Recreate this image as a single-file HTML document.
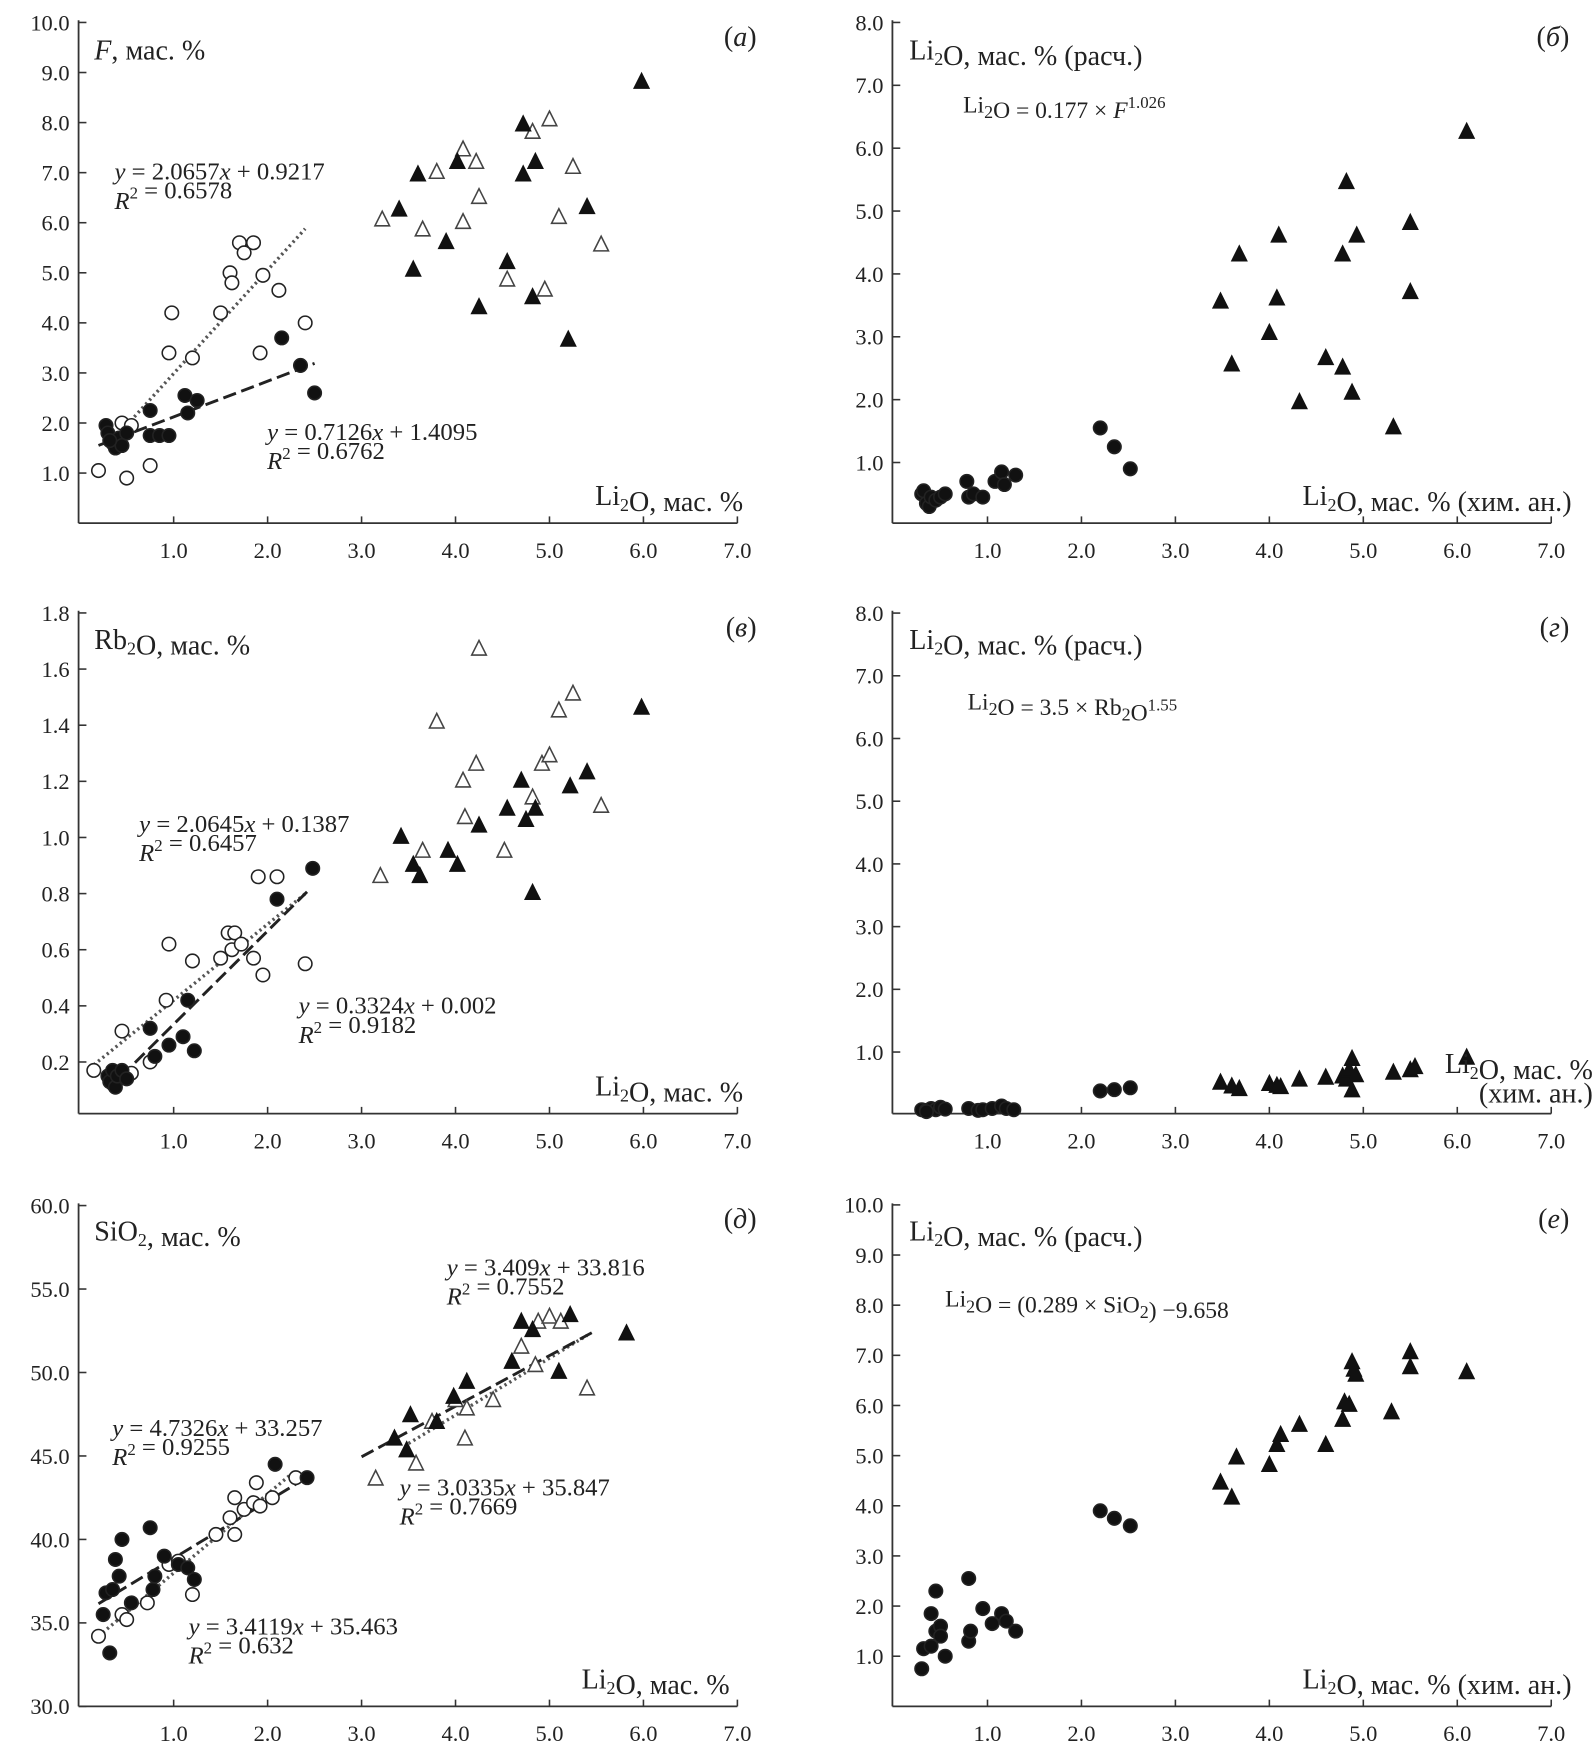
<!DOCTYPE html>
<html><head><meta charset="utf-8">
<style>
html,body{margin:0;padding:0;background:#fff;}
svg{display:block;}
text{font-family:"Liberation Serif","DejaVu Serif",serif;fill:#222;}
</style></head>
<body>
<svg id="fig" width="1594" height="1758" viewBox="0 0 1420 1566" preserveAspectRatio="none" xmlns="http://www.w3.org/2000/svg">
<rect x="0" y="0" width="1420" height="1566" fill="#fff"/>
</svg>
<script>
// ---- data (x = Li2O, y = value) ----
const aOpenCircles=[[0.2,1.05],[0.5,0.9],[0.75,1.15],[0.45,2.0],[0.55,1.95],[0.95,3.4],[0.98,4.2],[1.2,3.3],[1.5,4.2],[1.6,5.0],[1.62,4.8],[1.7,5.6],[1.75,5.4],[1.85,5.6],[1.95,4.95],[2.12,4.65],[1.92,3.4],[2.4,4.0]];
const aFilledCircles=[[0.28,1.95],[0.3,1.8],[0.35,1.6],[0.38,1.5],[0.42,1.7],[0.45,1.55],[0.5,1.8],[0.32,1.65],[0.75,2.25],[0.75,1.75],[0.85,1.75],[0.95,1.75],[1.12,2.55],[1.15,2.2],[1.25,2.45],[2.15,3.7],[2.35,3.15],[2.5,2.6]];
const aFilledTri=[[3.4,6.25],[3.6,6.95],[3.55,5.05],[3.9,5.6],[4.02,7.2],[4.25,4.3],[4.55,5.2],[4.72,7.95],[4.72,6.95],[4.85,7.2],[4.82,4.5],[5.2,3.65],[5.4,6.3],[5.98,8.8]];
const aOpenTri=[[3.22,6.05],[3.65,5.85],[3.8,7.0],[4.08,7.45],[4.08,6.0],[4.22,7.2],[4.25,6.5],[4.55,4.85],[4.82,7.8],[4.95,4.65],[5.0,8.05],[5.1,6.1],[5.25,7.1],[5.55,5.55]];
const aLines=[[0.3,2.4,2.0657,0.9217,"dot"],[0.2,2.5,0.7126,1.4095,"dash"]];

const bCircles=[[0.3,0.5],[0.32,0.55],[0.35,0.35],[0.38,0.3],[0.4,0.45],[0.45,0.4],[0.5,0.45],[0.55,0.5],[0.78,0.7],[0.8,0.45],[0.85,0.5],[0.95,0.45],[1.08,0.7],[1.15,0.85],[1.18,0.65],[1.3,0.8],[2.2,1.55],[2.35,1.25],[2.52,0.9]];
const bTri=[[3.48,3.55],[3.6,2.55],[3.68,4.3],[4.0,3.05],[4.08,3.6],[4.1,4.6],[4.32,1.95],[4.6,2.65],[4.78,2.5],[4.78,4.3],[4.82,5.45],[4.88,2.1],[4.93,4.6],[5.32,1.55],[5.5,4.8],[5.5,3.7],[6.1,6.25]];

const vOpenCircles=[[0.15,0.17],[0.45,0.31],[0.55,0.16],[0.75,0.2],[0.92,0.42],[0.95,0.62],[1.2,0.56],[1.5,0.57],[1.58,0.66],[1.62,0.6],[1.65,0.66],[1.72,0.62],[1.85,0.57],[1.9,0.86],[1.95,0.51],[2.1,0.86],[2.4,0.55]];
const vFilledCircles=[[0.3,0.15],[0.32,0.13],[0.35,0.17],[0.38,0.11],[0.4,0.15],[0.45,0.17],[0.5,0.14],[0.75,0.32],[0.8,0.22],[0.95,0.26],[1.1,0.29],[1.15,0.42],[1.22,0.24],[2.1,0.78],[2.48,0.89]];
const vFilledTri=[[3.42,1.0],[3.55,0.9],[3.62,0.86],[3.92,0.95],[4.02,0.9],[4.25,1.04],[4.55,1.1],[4.7,1.2],[4.75,1.06],[4.85,1.1],[4.82,0.8],[5.22,1.18],[5.4,1.23],[5.98,1.46]];
const vOpenTri=[[3.2,0.86],[3.65,0.95],[3.8,1.41],[4.08,1.2],[4.1,1.07],[4.22,1.26],[4.25,1.67],[4.52,0.95],[4.82,1.14],[4.92,1.26],[5.0,1.29],[5.1,1.45],[5.25,1.51],[5.55,1.11]];
const vLines=[[0.15,2.4,0.271,0.149,"dot"],[0.3,2.45,0.3324,0.002,"dash"]];

const gCircles=[[0.3,0.08],[0.35,0.07],[0.4,0.1],[0.45,0.08],[0.5,0.12],[0.55,0.09],[0.35,0.05],[0.8,0.1],[0.9,0.07],[0.95,0.08],[1.05,0.1],[1.15,0.14],[1.2,0.1],[1.28,0.08],[2.2,0.38],[2.35,0.4],[2.52,0.43]];
const gTri=[[3.48,0.5],[3.6,0.44],[3.68,0.4],[4.0,0.48],[4.08,0.45],[4.12,0.43],[4.32,0.55],[4.6,0.58],[4.78,0.6],[4.82,0.55],[4.85,0.7],[4.88,0.88],[4.88,0.38],[4.92,0.62],[5.32,0.66],[5.5,0.7],[5.55,0.75],[6.1,0.9]];

const dOpenCircles=[[0.2,34.2],[0.45,35.5],[0.5,35.2],[0.72,36.2],[0.95,38.5],[1.05,38.7],[1.2,36.7],[1.45,40.3],[1.6,41.3],[1.65,40.3],[1.65,42.5],[1.75,41.8],[1.85,42.2],[1.88,43.4],[1.92,42.0],[2.05,42.5],[2.3,43.7]];
const dFilledCircles=[[0.25,35.5],[0.28,36.8],[0.32,33.2],[0.35,37.0],[0.38,38.8],[0.42,37.8],[0.45,40.0],[0.55,36.2],[0.75,40.7],[0.78,37.0],[0.8,37.8],[0.9,39.0],[1.05,38.5],[1.15,38.3],[1.22,37.6],[2.08,44.5],[2.42,43.7]];
const dFilledTri=[[3.35,46.0],[3.48,45.3],[3.52,47.4],[3.8,47.0],[3.98,48.5],[4.12,49.4],[4.6,50.6],[4.7,53.0],[4.82,52.5],[5.1,50.0],[5.22,53.4],[5.82,52.3]];
const dOpenTri=[[3.15,43.6],[3.58,44.5],[3.75,47.0],[4.0,48.3],[4.12,47.8],[4.1,46.0],[4.4,48.3],[4.7,51.5],[4.85,50.4],[4.88,53.0],[5.0,53.3],[5.12,53.0],[5.4,49.0]];
const dLines=[[0.2,2.3,4.7326,33.257,"dot"],[0.2,2.35,3.4119,35.463,"dash"],[3.5,5.4,3.409,33.816,"dot"],[3.0,5.45,3.0335,35.847,"dash"]];

const eCircles=[[0.3,0.75],[0.32,1.15],[0.4,1.2],[0.4,1.85],[0.45,2.3],[0.45,1.5],[0.5,1.6],[0.5,1.4],[0.55,1.0],[0.8,2.55],[0.8,1.3],[0.82,1.5],[0.95,1.95],[1.05,1.65],[1.15,1.85],[1.2,1.7],[1.3,1.5],[2.2,3.9],[2.35,3.75],[2.52,3.6]];
const eTri=[[3.48,4.45],[3.6,4.15],[3.65,4.95],[4.0,4.8],[4.08,5.2],[4.12,5.4],[4.32,5.6],[4.6,5.2],[4.78,5.7],[4.8,6.05],[4.85,6.0],[4.88,6.85],[4.9,6.7],[4.92,6.6],[5.3,5.85],[5.5,7.05],[5.5,6.75],[6.1,6.65]];

const xTicks=[1,2,3,4,5,6,7];
const yTicksA=[1,2,3,4,5,6,7,8,9,10];
const yTicksB=[1,2,3,4,5,6,7,8];
const yTicksV=[0.2,0.4,0.6,0.8,1.0,1.2,1.4,1.6,1.8];
const yTicksD=[30,35,40,45,50,55,60];

const NS="http://www.w3.org/2000/svg";
const svg=document.getElementById('fig');
function el(tag,attrs,parent){const e=document.createElementNS(NS,tag);for(const k in attrs)e.setAttribute(k,attrs[k]);(parent||svg).appendChild(e);return e;}

function panel(name,ox,y0,ys,vmin,top,axisY,yTicks,dec){
  const g=el('g',{});
  
  
  const P={ox,y0,ys,vmin,g,X:v=>ox+v*83.7,Y:v=>y0-(v-vmin)*ys};
  const ya=el('line',{x1:ox-1,y1:top-2,x2:ox-1,y2:axisY,stroke:'#333','stroke-width':1.6},g);
  
  const xa=el('line',{x1:ox-1,y1:axisY,x2:P.X(7),y2:axisY,stroke:'#333','stroke-width':1.6},g);
  
  xTicks.forEach(t=>{
    el('line',{x1:P.X(t),y1:axisY,x2:P.X(t),y2:axisY-6,stroke:'#333','stroke-width':1.4},g);
    const tx=el('text',{x:P.X(t),y:axisY+31,'text-anchor':'middle','font-size':20},g);
    tx.textContent=t.toFixed(1);
    
  });
  yTicks.forEach(t=>{
    el('line',{x1:ox-1,y1:P.Y(t),x2:ox+6,y2:P.Y(t),stroke:'#333','stroke-width':1.4},g);
    const tx=el('text',{x:ox-9,y:P.Y(t)+7,'text-anchor':'end','font-size':20},g);
    tx.textContent=t.toFixed(dec);
    
  });
  return P;
}
function circles(P,data,filled,nm){
  data.forEach(d=>{const c=el('circle',{cx:P.X(d[0]),cy:P.Y(d[1]),r:6,fill:filled?'#111':'#fff',stroke:'#222','stroke-width':1.4},P.g);
    });
}
function tris(P,data,filled,nm){
  data.forEach(d=>{const x=P.X(d[0]),y=P.Y(d[1]);
    const t=el('polygon',{points:`${x},${y-8} ${x-6.5},${y+5} ${x+6.5},${y+5}`,fill:filled?'#111':'#fff',stroke:filled?'#111':'#444','stroke-width':1.4},P.g);
    });
}
function lines(P,data){
  data.forEach(l=>{const[x1,x2,m,b,s]=l;
    const ln=el('line',{x1:P.X(x1),y1:P.Y(m*x1+b),x2:P.X(x2),y2:P.Y(m*x2+b),stroke:s==='dot'?'#555':'#222','stroke-width':s==='dot'?3:2.6,'stroke-dasharray':s==='dot'?'2 3':'12 5'},P.g);
    });
}
function txt(x,y,html,size,nm,anchor){
  const t=el('text',{x,y,'font-size':size||22,'text-anchor':anchor||'start'});
  t.innerHTML=html;
  
}
const sub='<tspan font-size="16" dy="5">2</tspan><tspan dy="-5"></tspan>';
const sup2='<tspan font-size="15" dy="-9">2</tspan><tspan dy="9"></tspan>';
const T=25, Q=22;

// Panel a
const A=panel('panel-a',71,466,44.6,0,20,466,yTicksA,1);
lines(A,aLines);circles(A,aOpenCircles,false,'point-open-circle');circles(A,aFilledCircles,true,'point-filled-circle');
tris(A,aOpenTri,false,'point-open-triangle');tris(A,aFilledTri,true,'point-filled-triangle');
txt(84,53,'<tspan font-style="italic">F</tspan>, мас. %',T,'y-axis-title');
txt(674,41,'(<tspan font-style="italic">а</tspan>)',T,'panel-label','end');
txt(102,160,'<tspan font-style="italic">y</tspan> = 2.0657<tspan font-style="italic">x</tspan> + 0.9217',Q,'equation');
txt(102,186,'<tspan font-style="italic">R</tspan>'+sup2+' = 0.6578',Q,'r-squared');
txt(238,392,'<tspan font-style="italic">y</tspan> = 0.7126<tspan font-style="italic">x</tspan> + 1.4095',Q,'equation');
txt(238,418,'<tspan font-style="italic">R</tspan>'+sup2+' = 0.6762',Q,'r-squared');
txt(662,450,'Li'+sub+'O, мас. %',T,'x-axis-title','end');

// Panel б
const B=panel('panel-b',796,468,56,0,20,466,yTicksB,1);
circles(B,bCircles,true,'point-filled-circle');tris(B,bTri,true,'point-filled-triangle');
txt(810,53,'Li'+sub+'O, мас. % (расч.)',T,'y-axis-title');
txt(1398,41,'(<tspan font-style="italic">б</tspan>)',T,'panel-label','end');
txt(858,100,'Li'+sub+'O = 0.177 × <tspan font-style="italic">F</tspan><tspan font-size="15" dy="-9">1.026</tspan>',21,'formula');
txt(1400,450,'Li'+sub+'O, мас. % (хим. ан.)',T,'x-axis-title','end');

// Panel в
const V=panel('panel-v',71,996,250,0,546,992,yTicksV,1);
lines(V,vLines);circles(V,vOpenCircles,false,'point-open-circle');circles(V,vFilledCircles,true,'point-filled-circle');
tris(V,vOpenTri,false,'point-open-triangle');tris(V,vFilledTri,true,'point-filled-triangle');
txt(84,578,'Rb'+sub+'O, мас. %',T,'y-axis-title');
txt(674,567,'(<tspan font-style="italic">в</tspan>)',T,'panel-label','end');
txt(124,741,'<tspan font-style="italic">y</tspan> = 2.0645<tspan font-style="italic">x</tspan> + 0.1387',Q,'equation');
txt(124,767,'<tspan font-style="italic">R</tspan>'+sup2+' = 0.6457',Q,'r-squared');
txt(266,903,'<tspan font-style="italic">y</tspan> = 0.3324<tspan font-style="italic">x</tspan> + 0.002',Q,'equation');
txt(266,929,'<tspan font-style="italic">R</tspan>'+sup2+' = 0.9182',Q,'r-squared');
txt(662,976,'Li'+sub+'O, мас. %',T,'x-axis-title','end');

// Panel г
const G=panel('panel-g',796,993,55.86,0,546,992,yTicksB,1);
circles(G,gCircles,true,'point-filled-circle');tris(G,gTri,true,'point-filled-triangle');
txt(810,578,'Li'+sub+'O, мас. % (расч.)',T,'y-axis-title');
txt(1398,567,'(<tspan font-style="italic">г</tspan>)',T,'panel-label','end');
txt(862,632,'Li'+sub+'O = 3.5 × Rb'+sub+'O<tspan font-size="15" dy="-9">1.55</tspan>',21,'formula');
txt(1419,956,'Li'+sub+'O, мас. %',T,'x-axis-title','end');
txt(1419,982,'(хим. ан.)',T,'x-axis-title-2','end');

// Panel д
const D=panel('panel-d',71,1520,14.87,30,1074,1520,yTicksD,1);
lines(D,dLines);circles(D,dOpenCircles,false,'point-open-circle');circles(D,dFilledCircles,true,'point-filled-circle');
tris(D,dOpenTri,false,'point-open-triangle');tris(D,dFilledTri,true,'point-filled-triangle');
txt(84,1105,'SiO'+sub+', мас. %',T,'y-axis-title');
txt(674,1094,'(<tspan font-style="italic">д</tspan>)',T,'panel-label','end');
txt(398,1136,'<tspan font-style="italic">y</tspan> = 3.409<tspan font-style="italic">x</tspan> + 33.816',Q,'equation');
txt(398,1162,'<tspan font-style="italic">R</tspan>'+sup2+' = 0.7552',Q,'r-squared');
txt(100,1279,'<tspan font-style="italic">y</tspan> = 4.7326<tspan font-style="italic">x</tspan> + 33.257',Q,'equation');
txt(100,1305,'<tspan font-style="italic">R</tspan>'+sup2+' = 0.9255',Q,'r-squared');
txt(356,1332,'<tspan font-style="italic">y</tspan> = 3.0335<tspan font-style="italic">x</tspan> + 35.847',Q,'equation');
txt(356,1358,'<tspan font-style="italic">R</tspan>'+sup2+' = 0.7669',Q,'r-squared');
txt(168,1456,'<tspan font-style="italic">y</tspan> = 3.4119<tspan font-style="italic">x</tspan> + 35.463',Q,'equation');
txt(168,1482,'<tspan font-style="italic">R</tspan>'+sup2+' = 0.632',Q,'r-squared');
txt(650,1504,'Li'+sub+'O, мас. %',T,'x-axis-title','end');

// Panel е
const E=panel('panel-e',796,1520,44.67,0,1074,1520,yTicksA,1);
circles(E,eCircles,true,'point-filled-circle');tris(E,eTri,true,'point-filled-triangle');
txt(810,1105,'Li'+sub+'O, мас. % (расч.)',T,'y-axis-title');
txt(1398,1094,'(<tspan font-style="italic">е</tspan>)',T,'panel-label','end');
txt(842,1164,'Li'+sub+'O = (0.289 × SiO'+sub+') −9.658',21,'formula');
txt(1400,1504,'Li'+sub+'O, мас. % (хим. ан.)',T,'x-axis-title','end');
</script>
</body></html>
